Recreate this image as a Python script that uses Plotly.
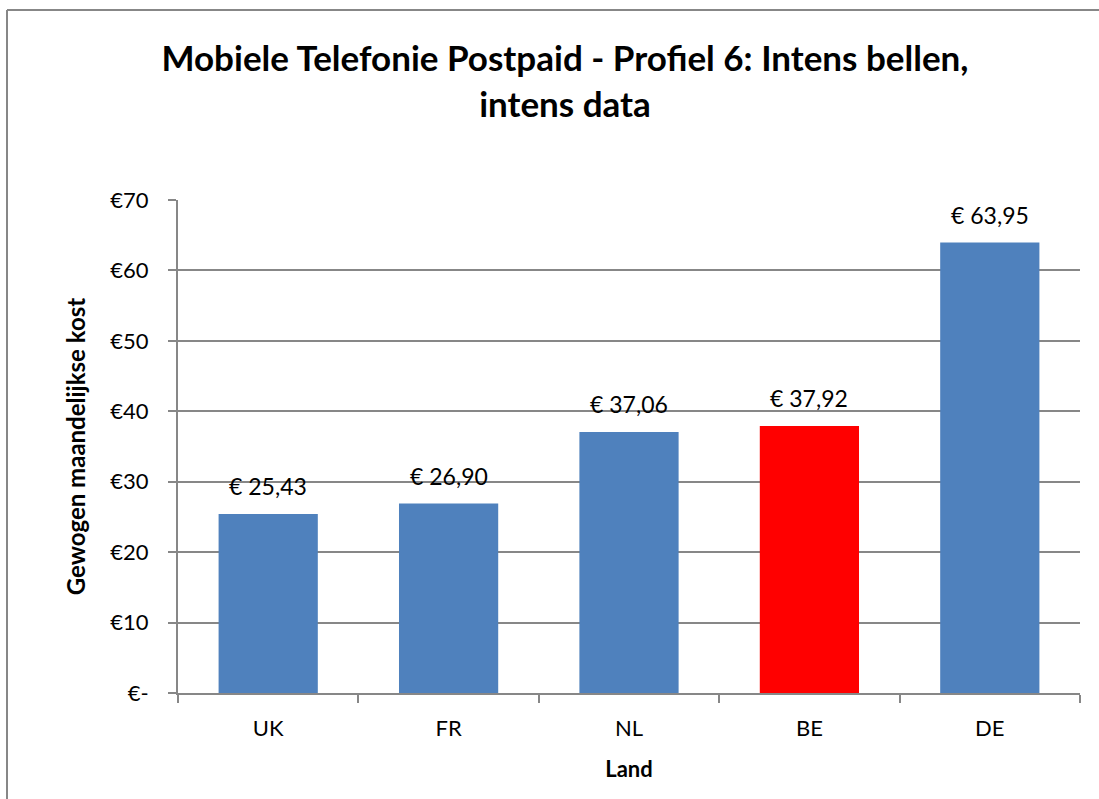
import plotly.graph_objects as go

countries = ["UK", "FR", "NL", "BE", "DE"]
costs = [25.43, 26.90, 37.06, 37.92, 63.95]
bar_colors = ["#4F81BD", "#4F81BD", "#4F81BD", "#FF0000", "#4F81BD"]
y_ticks = [0, 10, 20, 30, 40, 50, 60, 70]
y_ticktext = ["€-", "€10", "€20", "€30", "€40", "€50", "€60", "€70"]
labels = ["€ " + f"{v:.2f}".replace(".", ",") for v in costs]

FONT = "Lato"
GRAY = "#878787"

fig = go.Figure(go.Bar(
    x=countries, y=costs, marker=dict(color=bar_colors, line=dict(width=0)),
))

W, H = 1099, 799
L, R, T, B = 178, 19, 200, 106
pw, ph = W - L - R, H - T - B

annotations = [
    dict(x=c, y=v, xref="x", yref="y", text=t, showarrow=False,
         yanchor="bottom", yshift=12, font=dict(family=FONT, size=23, color="black"))
    for c, v, t in zip(countries, costs, labels)
]

fx0 = (7 - L) / pw
fx1 = (W + 30 - L) / pw
fy0 = -(H + 30 - T - ph) / ph
fy1 = 1 + (T - 10) / ph

fig.update_layout(
    width=W, height=H,
    margin=dict(l=L, r=R, t=T, b=B),
    paper_bgcolor="white", plot_bgcolor="white",
    bargap=0.45,
    showlegend=False,
    font=dict(family=FONT, color="black"),
    title=dict(
        text="<b>Mobiele Telefonie Postpaid - Profiel 6: Intens bellen,<br>intens data</b>",
        x=565 / W, xanchor="center", y=1 - 71 / H, yanchor="middle",
        font=dict(family=FONT, size=35, color="black"),
    ),
    xaxis=dict(
        type="category", tickson="boundaries", ticks="outside", ticklen=8,
        tickcolor=GRAY, tickwidth=2, showline=True, linecolor=GRAY, linewidth=2,
        showgrid=False, tickfont=dict(family=FONT, size=22), ticklabelstandoff=15,
        title=dict(text="<b>Land</b>", font=dict(family=FONT, size=22), standoff=21),
    ),
    yaxis=dict(
        range=[0, 70], tickvals=y_ticks, ticktext=y_ticktext,
        ticks="outside", ticklen=8, tickcolor=GRAY, tickwidth=2,
        showline=True, linecolor=GRAY, linewidth=2,
        showgrid=True, gridcolor=GRAY, gridwidth=2, zeroline=False,
        tickfont=dict(family=FONT, size=22), ticklabelstandoff=15,
        title=dict(text="<b>Gewogen maandelijkse kost</b>", font=dict(family=FONT, size=24), standoff=18),
    ),
    annotations=annotations,
    shapes=[
        dict(type="line", xref="paper", yref="paper", x0=fx0, x1=fx1, y0=fy1, y1=fy1,
             line=dict(color=GRAY, width=2), layer="below"),
        dict(type="line", xref="paper", yref="paper", x0=fx0, x1=fx0, y0=fy0, y1=fy1,
             line=dict(color=GRAY, width=2), layer="below"),
    ],
)

fig.write_html(
    "out.html", config={"displayModeBar": False},
    post_script=(
        "document.documentElement.style.margin='0';document.documentElement.style.padding='0';"
        "document.documentElement.style.overflow='hidden';"
        "document.body.style.margin='0';document.body.style.padding='0';"
        "document.body.style.overflow='hidden';"
    ),
)
